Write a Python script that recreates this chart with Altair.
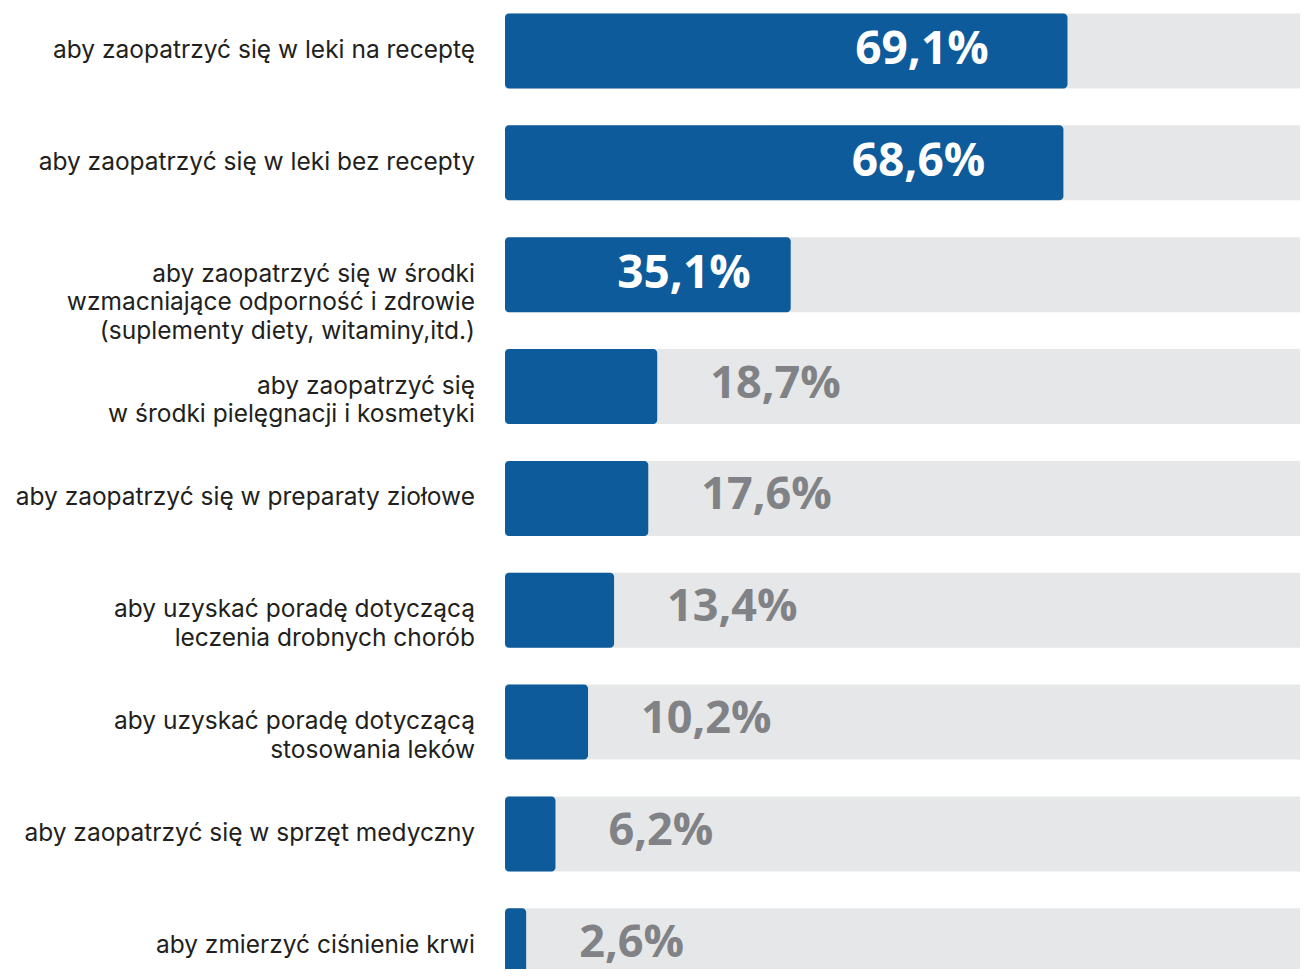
import altair as alt
import pandas as pd

# --- data ---
label_lines = [
    ["aby zaopatrzyć się w leki na receptę"],
    ["aby zaopatrzyć się w leki bez recepty"],
    ["aby zaopatrzyć się w środki", "wzmacniające odporność i zdrowie", "(suplementy diety, witaminy,itd.)"],
    ["aby zaopatrzyć się", "w środki pielęgnacji i kosmetyki"],
    ["aby zaopatrzyć się w preparaty ziołowe"],
    ["aby uzyskać poradę dotyczącą", "leczenia drobnych chorób"],
    ["aby uzyskać poradę dotyczącą", "stosowania leków"],
    ["aby zaopatrzyć się w sprzęt medyczny"],
    ["aby zmierzyć ciśnienie krwi"],
]
values = [69.1, 68.6, 35.1, 18.7, 17.6, 13.4, 10.2, 6.2, 2.6]
value_labels = ["69,1%", "68,6%", "35,1%", "18,7%", "17,6%", "13,4%", "10,2%", "6,2%", "2,6%"]
full_scale = 100

keys = [" ".join(l) for l in label_lines]
df = pd.DataFrame({
    "key": keys,
    "lines": label_lines,
    "value": values,
    "label": value_labels,
    "full": [full_scale] * len(values),
})

BLUE = "#0D5B9A"
BG = "#E6E7E8"
GREY_TXT = "#808285"
DARK = "#231F20"

W, H = 1292, 961

y = alt.Y("key:N", sort=keys, axis=None,
          scale=alt.Scale(paddingInner=0.3295, paddingOuter=0.1647, range=[-12.93, 993.72]))
xs = alt.Scale(domain=[0, 100], range=[497, 1311])

base = alt.Chart(df)

bg = base.mark_bar(color=BG, clip=True).encode(
    x=alt.X("zero:Q", scale=xs, axis=None), x2="full:Q", y=y
).transform_calculate(zero="0")

bars = base.mark_bar(color=BLUE, cornerRadius=4, clip=True).encode(
    x=alt.X("zero:Q", scale=xs, axis=None), x2="value:Q", y=y
).transform_calculate(zero="0")

inside = base.transform_filter("datum.value > 30").transform_calculate(
    pos="datum.value * 0.86"
).mark_text(align="right", baseline="middle", font="Open Sans", fontWeight="bold",
            fontSize=46, color="white", dy=-1).encode(
    x=alt.X("pos:Q", scale=xs, axis=None), y=y, text="label:N"
)

outside = base.transform_filter("datum.value <= 30").mark_text(
    align="left", baseline="middle", font="Open Sans", fontWeight="bold",
    fontSize=45, color=GREY_TXT, dx=53, dy=-3).encode(
    x=alt.X("value:Q", scale=xs, axis=None), y=y, text="label:N"
)

cats = base.mark_text(align="right", baseline="middle", font="Inter",
                      fontSize=24.5, color=DARK, lineHeight=28.5).encode(
    x=alt.value(467), y=y, text="lines"
)

chart = alt.layer(bg, bars, inside, outside, cats).properties(
    width=W, height=H, padding=0, autosize=alt.AutoSizeParams(type="none")
).configure_view(stroke=None)

chart.save("out.html", embed_options={"renderer": "svg", "actions": False})
